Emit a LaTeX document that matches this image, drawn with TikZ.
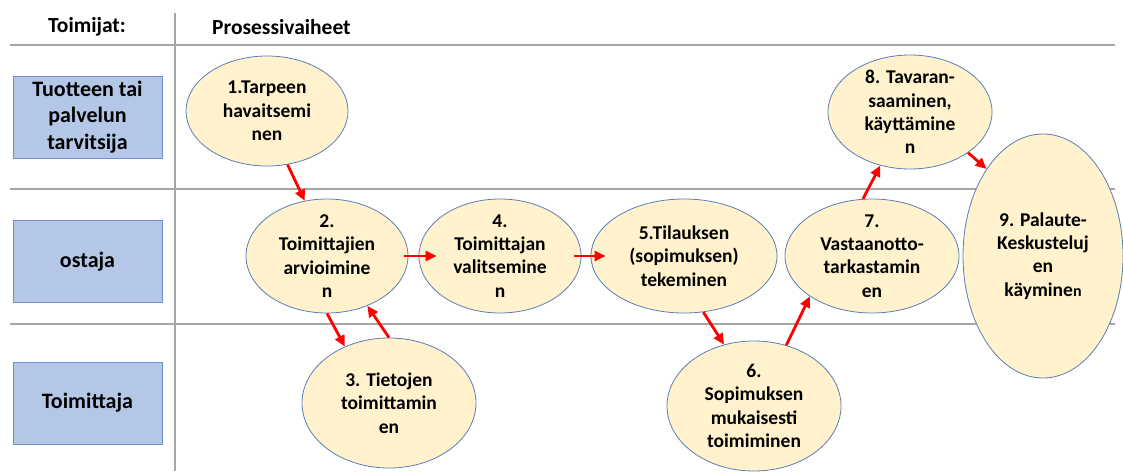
\documentclass[tikz,border=0pt]{standalone}
\usepackage{fontspec}
\setmainfont{Carlito}
\usetikzlibrary{arrows.meta,shapes.geometric}
\definecolor{laneline}{HTML}{A6A6A6}
\definecolor{actorfill}{HTML}{B4C7E7}
\definecolor{actordraw}{HTML}{7090C8}
\definecolor{phasefill}{HTML}{FFF2CC}
\definecolor{phasedraw}{HTML}{5B7DB8}
\begin{document}
\begin{tikzpicture}[x=1pt, y=-1pt,
    every node/.style={font=\bfseries\fontsize{19.5}{23.3}\selectfont, align=center, inner sep=0pt},
    lane/.style={laneline, line width=2.6pt},
    actor/.style={draw=actordraw, fill=actorfill, line width=0.8pt, minimum width=149pt, minimum height=82pt, font=\bfseries\fontsize{22}{26.5}\selectfont},
    phase/.style={ellipse, draw=phasedraw, fill=phasefill, line width=0.8pt},
    arr/.style={red, line width=2.8pt, -{Triangle[length=11pt,width=10pt]}}]
    \useasboundingbox (0,0) rectangle (1123,471);
    \coordinate (hl) at (10,45);   \coordinate (hr) at (1115,45);
    \coordinate (ml) at (10,189);  \coordinate (mr) at (1115,189);
    \coordinate (ll) at (10,324);  \coordinate (lr) at (1115,324);
    \coordinate (vt) at (175,13);  \coordinate (vb) at (175,471);
    \draw[lane] (hl) -- (hr);
    \draw[lane] (ml) -- (mr);
    \draw[lane] (ll) -- (lr);
    \draw[lane] (vt) -- (vb);
    \node[font=\bfseries\fontsize{21.5}{24}\selectfont] (toimijat) at (87,27) {Toimijat:};
    \node[font=\bfseries\fontsize{21.5}{24}\selectfont, anchor=west] (vaiheet) at (212,27) {Prosessivaiheet};
    \node[actor] (a1) at (87.5,117) {Tuotteen tai\\palvelun\\tarvitsija};
    \node[actor] (a2) at (87.5,261.5) {ostaja};
    \node[actor] (a3) at (87.5,403) {Toimittaja};
    \foreach \i/\cx/\cy/\rx/\ry/\txt in {
        1/267/111/81/55/{1.Tarpeen\\havaitsemi\\nen},
        2/327/256/81/57/{2.\\Toimittajien\\arvioimine\\n},
        3/389/403/87/65/{3. Tietojen\\toimittamin\\en},
        4/500/256/81/57/{4.\\Toimittajan\\valitsemine\\n},
        5/684/256/93/57/{5.Tilauksen\\(sopimuksen)\\tekeminen},
        6/754/406/87/65/{6.\\Sopimuksen\\mukaisesti\\toimiminen},
        7/872/256/87/57/{7.\\Vastaanotto-\\tarkastamin\\en},
        8/910/112/82/57/{8. Tavaran-\\saaminen,\\käyttämine\\n},
        9/1043/256/80/122/{9. Palaute-\\Keskusteluj\\en\\käymine{\fontsize{16}{23}\selectfont n}}} {
        \node[phase, minimum width=2*\rx, minimum height=2*\ry] (e\i) at (\cx,\cy) {};
        \node (t\i) at (e\i) {\txt};
    }
    \draw[arr] (e1.-69) -- (e2.112);
    \draw[arr, shorten <=-4pt, shorten >=-18pt] (e2.east) -- (e4.west);
    \draw[arr, shorten <=-7pt, shorten >=-15pt] (e4.east) -- (e5.west);
    \draw[arr] (e2.-90) -- (e3.128);
    \draw[arr] (e3.90) -- (e2.-51);
    \draw[arr] (e5.-71) -- (e6.116);
    \draw[arr] (e6.62) -- (e7.213);
    \draw[arr] (e7.99) -- (e8.241);
    \draw[arr] (e8.-35) -- (e9.123);
\end{tikzpicture}
\end{document}
